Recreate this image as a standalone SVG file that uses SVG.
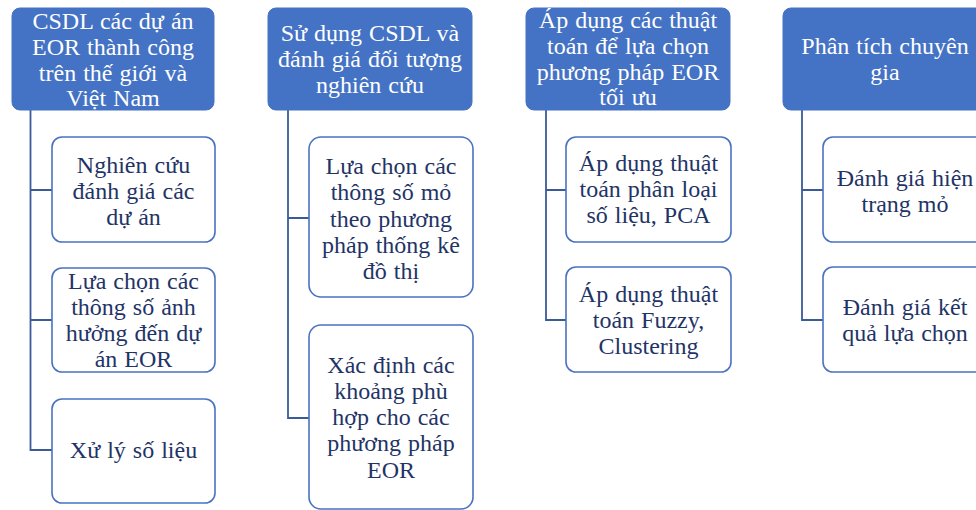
<svg xmlns="http://www.w3.org/2000/svg" width="976" height="510" viewBox="0 0 976 510">
  <style>
    .head rect { fill: #4472c4; stroke: #4472c4; stroke-width: 1; }
    .head text { fill: #ffffff; }
    .item rect { fill: #ffffff; stroke: #4a72c0; stroke-width: 1.6; }
    .item text { fill: #1f3466; }
    .links path { fill: none; stroke: #3a5a98; stroke-width: 1.8; }
  </style>
  <rect width="976" height="510" fill="#ffffff"/>

  <!-- connectors -->
  <g id="connectors" class="links">
    <path d="M30.5 110 V450 H52 M30.5 190 H52 M30.5 320 H52"/>
    <path d="M288 110 V418 H309 M288 218 H309"/>
    <path d="M546 110 V320 H566 M546 190 H566"/>
    <path d="M802 110 V320 H823 M802 190 H823"/>
  </g>

  <g font-family="'Liberation Serif', serif" font-size="24" text-anchor="middle" word-spacing="1">
  <!-- column 1 -->
  <g id="h1" class="head">
    <rect x="12" y="8" width="202" height="102" rx="8"/>
    <text x="113" y="29">CSDL các dự án</text>
    <text x="113" y="55">EOR thành công</text>
    <text x="113" y="81">trên thế giới và</text>
    <text x="113" y="106">Việt Nam</text>
  </g>
  <g id="c1a" class="item">
    <rect x="52" y="137" width="163" height="105" rx="10"/>
    <text x="133.5" y="173">Nghiên cứu</text>
    <text x="133.5" y="199">đánh giá các</text>
    <text x="133.5" y="225">dự án</text>
  </g>
  <g id="c1b" class="item">
    <rect x="52" y="268" width="163" height="104" rx="10"/>
    <text x="133.5" y="289">Lựa chọn các</text>
    <text x="133.5" y="315">thông số ảnh</text>
    <text x="133.5" y="341">hưởng đến dự</text>
    <text x="133.5" y="367">án EOR</text>
  </g>
  <g id="c1c" class="item">
    <rect x="52" y="399" width="163" height="104" rx="10"/>
    <text x="133.5" y="458">Xử lý số liệu</text>
  </g>

  <!-- column 2 -->
  <g id="h2" class="head">
    <rect x="268" y="8" width="204" height="102" rx="8"/>
    <text x="370" y="41">Sử dụng CSDL và</text>
    <text x="370" y="67">đánh giá đối tượng</text>
    <text x="370" y="93">nghiên cứu</text>
  </g>
  <g id="c2a" class="item">
    <rect x="309" y="137" width="164" height="160" rx="12"/>
    <text x="391" y="174">Lựa chọn các</text>
    <text x="391" y="200">thông số mỏ</text>
    <text x="391" y="227">theo phương</text>
    <text x="391" y="253">pháp thống kê</text>
    <text x="391" y="279">đồ thị</text>
  </g>
  <g id="c2b" class="item">
    <rect x="309" y="325" width="164" height="184" rx="12"/>
    <text x="391" y="373">Xác định các</text>
    <text x="391" y="399">khoảng phù</text>
    <text x="391" y="425">hợp cho các</text>
    <text x="391" y="451">phương pháp</text>
    <text x="391" y="478">EOR</text>
  </g>

  <!-- column 3 -->
  <g id="h3" class="head">
    <rect x="526" y="8" width="204" height="102" rx="8"/>
    <text x="628" y="28">Áp dụng các thuật</text>
    <text x="628" y="54">toán để lựa chọn</text>
    <text x="628" y="80">phương pháp EOR</text>
    <text x="628" y="105">tối ưu</text>
  </g>
  <g id="c3a" class="item">
    <rect x="566" y="137" width="165" height="105" rx="10"/>
    <text x="648.5" y="171">Áp dụng thuật</text>
    <text x="648.5" y="197">toán phân loại</text>
    <text x="648.5" y="223">số liệu, PCA</text>
  </g>
  <g id="c3b" class="item">
    <rect x="566" y="267" width="165" height="105" rx="10"/>
    <text x="648.5" y="302">Áp dụng thuật</text>
    <text x="648.5" y="328">toán Fuzzy,</text>
    <text x="648.5" y="354">Clustering</text>
  </g>

  <!-- column 4 -->
  <g id="h4" class="head">
    <rect x="783" y="8" width="204" height="102" rx="8"/>
    <text x="885" y="54">Phân tích chuyên</text>
    <text x="885" y="80">gia</text>
  </g>
  <g id="c4a" class="item">
    <rect x="823" y="137" width="165" height="105" rx="10"/>
    <text x="905" y="186">Đánh giá hiện</text>
    <text x="905" y="212">trạng mỏ</text>
  </g>
  <g id="c4b" class="item">
    <rect x="823" y="267" width="165" height="105" rx="10"/>
    <text x="905" y="315">Đánh giá kết</text>
    <text x="905" y="341">quả lựa chọn</text>
  </g>
  </g>
</svg>
